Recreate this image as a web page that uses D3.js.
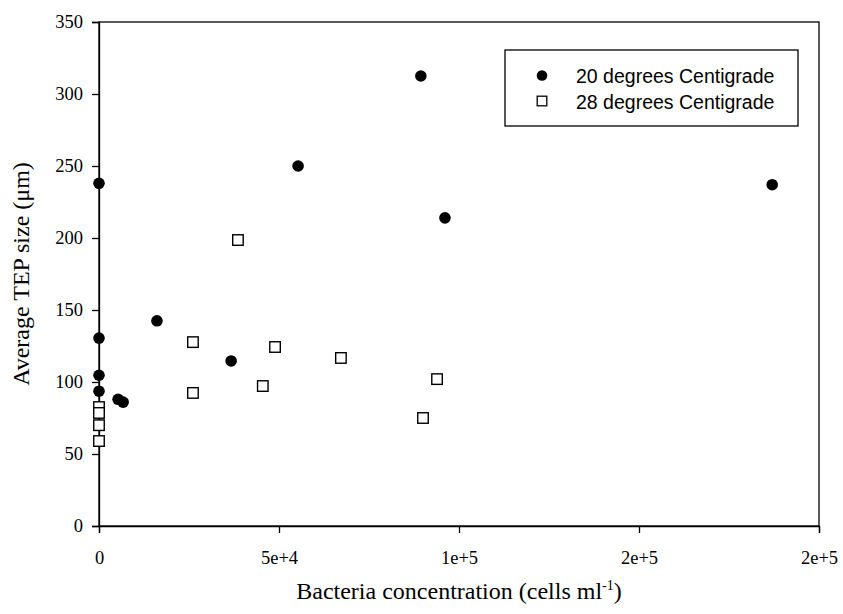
<!DOCTYPE html>
<html>
<head>
<meta charset="utf-8">
<script src="https://cdn.jsdelivr.net/npm/d3@7"></script>
<style>
  html, body { margin: 0; padding: 0; background: #fff; }
  svg { display: block; }
</style>
</head>
<body>
<div id="chart"></div>
<script>
// ---- Data ----
const series20Label = "20 degrees Centigrade";
const series28Label = "28 degrees Centigrade";
const series20X = [0, 0, 0, 0, 5300, 6700, 16100, 36700, 55300, 89400, 96100, 187000];
const series20Y = [238, 130.5, 104.7, 93.6, 88, 86, 142.5, 114.6, 250, 312.5, 214, 237];
const series28X = [0, 0, 0, 0, 26100, 26100, 38600, 45500, 48900, 67200, 90000, 93900];
const series28Y = [82.6, 78.5, 70, 59, 127.7, 92.4, 198.6, 97.2, 124.3, 116.7, 75, 102];
const xTickValues = [0, 50000, 100000, 150000, 200000];
const xTickLabels = ["0", "5e+4", "1e+5", "2e+5", "2e+5"];
const yTickValues = [0, 50, 100, 150, 200, 250, 300, 350];
const yTickLabels = ["0", "50", "100", "150", "200", "250", "300", "350"];

// ---- Layout ----
const W = 843, H = 614;
const mLeft = 99, mRight = 819, mTop = 22, mBottom = 526;
const serif = "'Liberation Serif', 'Times New Roman', Times, serif";
const sans = "'Liberation Sans', Arial, Helvetica, sans-serif";

const svg = d3.select("#chart").append("svg")
  .attr("width", W).attr("height", H);

const x = d3.scaleLinear().domain([0, 200000]).range([mLeft, mRight]);
const y = d3.scaleLinear().domain([0, 350]).range([mBottom, mTop]);

// frame
svg.append("rect")
  .attr("x", mLeft).attr("y", mTop)
  .attr("width", mRight - mLeft).attr("height", mBottom - mTop)
  .attr("fill", "none").attr("stroke", "#000").attr("stroke-width", 1.3);

// axes
const xAxis = d3.axisBottom(x)
  .tickValues(xTickValues)
  .tickFormat((d, i) => xTickLabels[i])
  .tickSize(7).tickPadding(18);
const gx = svg.append("g").attr("transform", `translate(0,${mBottom})`).call(xAxis);

const yAxis = d3.axisLeft(y)
  .tickValues(yTickValues)
  .tickFormat((d, i) => yTickLabels[i])
  .tickSize(7).tickPadding(9);
const gy = svg.append("g").attr("transform", `translate(${mLeft},0)`).call(yAxis);

[gx, gy].forEach(g => {
  g.select(".domain").attr("stroke", "#000").attr("stroke-width", 1.3);
  g.selectAll(".tick line").attr("stroke", "#000").attr("stroke-width", 1.3);
  g.selectAll(".tick text")
    .attr("fill", "#000")
    .style("font-family", serif)
    .style("font-size", "18.5px");
});

// axis titles
const xt = svg.append("text")
  .attr("x", (mLeft + mRight) / 2).attr("y", 599)
  .attr("text-anchor", "middle")
  .style("font-family", serif).style("font-size", "24px").attr("fill", "#000");
xt.append("tspan").text("Bacteria concentration (cells ml");
xt.append("tspan").attr("dy", "-9").style("font-size", "14px").text("-1");
xt.append("tspan").attr("dy", "9").text(")");

svg.append("text")
  .attr("transform", `translate(29,${(mTop + mBottom) / 2}) rotate(-90)`)
  .attr("text-anchor", "middle")
  .style("font-family", serif).style("font-size", "24px").attr("fill", "#000")
  .text("Average TEP size (\u03bcm)");

// data points
const pts20 = series20X.map((v, i) => ({ x: v, y: series20Y[i] }));
const pts28 = series28X.map((v, i) => ({ x: v, y: series28Y[i] }));

const sq = 10.5;
svg.append("g").selectAll("rect").data(pts28).join("rect")
  .attr("x", d => x(d.x) - sq / 2).attr("y", d => y(d.y) - sq / 2)
  .attr("width", sq).attr("height", sq)
  .attr("fill", "#fff").attr("stroke", "#000").attr("stroke-width", 1.4);

svg.append("g").selectAll("circle").data(pts20).join("circle")
  .attr("cx", d => x(d.x)).attr("cy", d => y(d.y))
  .attr("r", 5.8).attr("fill", "#000");

// legend
const lg = svg.append("g");
lg.append("rect")
  .attr("x", 505).attr("y", 50).attr("width", 293).attr("height", 76)
  .attr("fill", "#fff").attr("stroke", "#000").attr("stroke-width", 1.3);
lg.append("circle").attr("cx", 542).attr("cy", 75.5).attr("r", 5.3).attr("fill", "#000");
lg.append("rect").attr("x", 542 - 4.8).attr("y", 101 - 4.8).attr("width", 9.6).attr("height", 9.6)
  .attr("fill", "#fff").attr("stroke", "#000").attr("stroke-width", 1.3);
lg.append("text").attr("x", 576).attr("y", 83)
  .style("font-family", sans).style("font-size", "19.5px").attr("fill", "#000")
  .text(series20Label);
lg.append("text").attr("x", 576).attr("y", 108.5)
  .style("font-family", sans).style("font-size", "19.5px").attr("fill", "#000")
  .text(series28Label);
</script>
</body>
</html>
